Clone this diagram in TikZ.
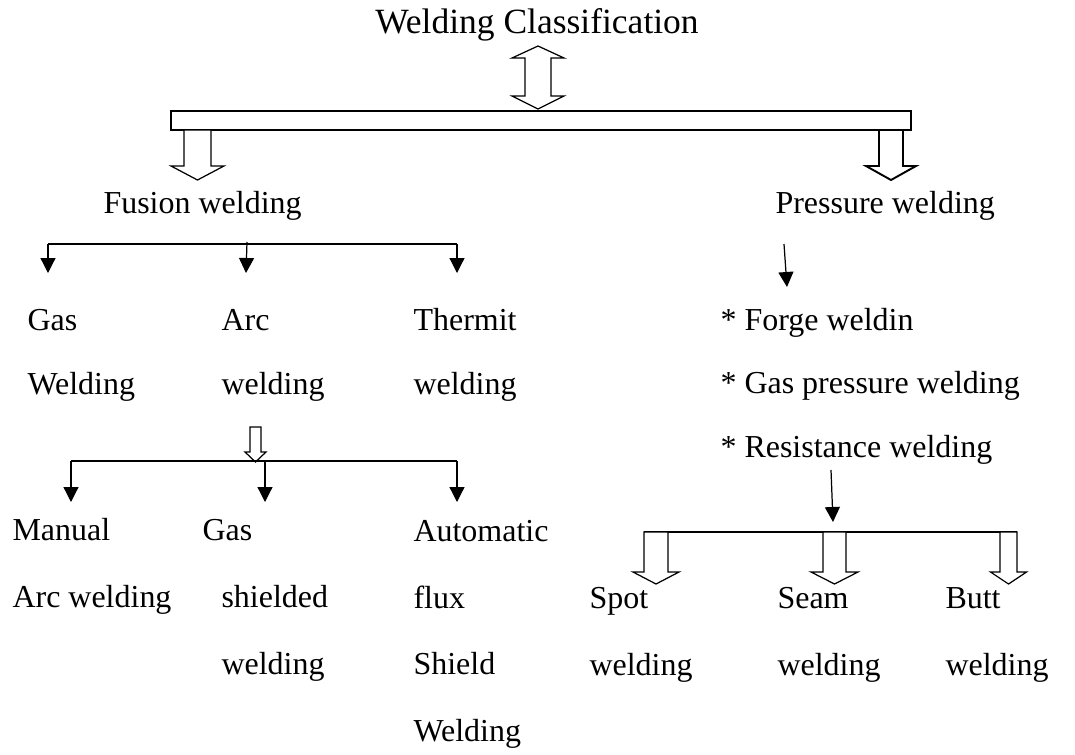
\documentclass[tikz,border=0pt]{standalone}
\usepackage{fontspec}
\setmainfont{Liberation Serif}
\usetikzlibrary{arrows.meta}

\tikzset{
  txt/.style={anchor=base west, inner sep=0pt, align=left,
    font=\fontsize{18.2}{35.9}\selectfont},
  lowtxt/.style={txt, font=\fontsize{18.2}{37.8}\selectfont},
  blockline/.style={draw=black, line width=0.7pt, fill=white},
  smallarrow/.style={-{Triangle[length=0.3cm,width=0.3cm]}, line width=0.7pt}
}
% hollow down arrow: x, top, head base, tip, shaft half width, head half width
\newcommand{\hollowdown}[7][]{%
  \draw[blockline,#1] ({#2-#6},#3) -- ({#2-#6},#4) -- ({#2-#7},#4) -- (#2,#5)
    -- ({#2+#7},#4) -- ({#2+#6},#4) -- ({#2+#6},#3) -- cycle;}

\begin{document}
\begin{tikzpicture}[x=0.02cm,y=-0.02cm,line width=0.6pt]
  \useasboundingbox (0,0) rectangle (1075,754);

  \node[txt,anchor=base,font=\fontsize{20.2}{24}\selectfont] (title) at (537,33) {Welding Classification};
  \draw[blockline] (538,46) -- (564,58) -- (551,58) -- (551,96) -- (564,96)
    -- (538,109) -- (512,96) -- (525,96) -- (525,58) -- (512,58) -- cycle;
  \draw[blockline] (171,111) rectangle (911,130);
  \hollowdown{197.5}{130}{166}{180}{13.5}{26.5}
  \hollowdown[line width=1.1pt]{891}{130}{166}{180}{12}{25}

  \node[txt] (fusion) at (103,213) {Fusion welding};
  \node[txt] (pressure) at (775,213) {Pressure welding};

  % fusion branch
  \coordinate (fl) at (48,244);
  \coordinate (fr) at (457,244);
  \draw (fl) -- (fr);
  \draw[smallarrow] (fl) -- (48,273);
  \draw[smallarrow] (247,242) -- (246,273);
  \draw[smallarrow] (fr) -- (457,273);

  % base of a multi-line node = baseline of its last line
  \node[txt] (gas) at (27,394) {Gas\\Welding};
  \node[txt] (arc) at (221,394) {Arc\\welding};
  \node[txt] (thermit) at (413,394) {Thermit\\welding};

  % pressure branch
  \draw[smallarrow] (784,244) -- (787,287);
  \node[txt] (plist) at (720,457) {* Forge weldin\\* Gas pressure welding\\* Resistance welding};

  % arc welding branch
  \hollowdown{255.5}{427}{452}{462}{5.5}{10.5}
  \coordinate (al) at (71,461);
  \coordinate (ar) at (457,461);
  \draw (al) -- (ar);
  \draw[smallarrow] (al) -- (71,502);
  \draw[smallarrow] (265,461) -- (265,502);
  \draw[smallarrow] (ar) -- (457,502);

  \node[lowtxt] (manual) at (12,607) {Manual\\Arc welding};
  \node[lowtxt] (gasw) at (202,540) {Gas};
  \node[lowtxt] (shield) at (221,674) {shielded\\welding};
  \node[lowtxt] (auto) at (413,741) {Automatic\\flux\\Shield\\Welding};

  % resistance branch
  \draw[smallarrow] (831,470) -- (833,522);
  \coordinate (rl) at (644,532);
  \coordinate (rr) at (1017,532);
  \draw (rl) -- (rr);
  \hollowdown{656}{532}{572}{584}{12}{23}
  \hollowdown{834.5}{532}{572}{584}{11.5}{23.5}
  \hollowdown{1008.5}{532}{572}{584}{8.5}{18}

  \node[lowtxt] (spot) at (589,675) {Spot\\welding};
  \node[lowtxt] (seam) at (777,675) {Seam\\welding};
  \node[lowtxt] (butt) at (945,675) {Butt\\welding};
\end{tikzpicture}
\end{document}
